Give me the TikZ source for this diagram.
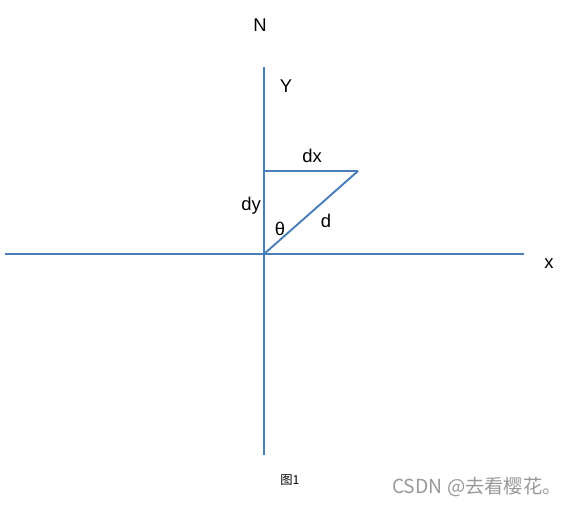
\documentclass[tikz,border=0pt]{standalone}
\usepackage{fontspec}
\setmainfont{Liberation Sans}
\newfontfamily\cjk{Noto Sans CJK SC}
\usepackage{xcolor}
\usetikzlibrary{positioning,calc}
\definecolor{axisblue}{RGB}{74,126,187}

\begin{document}
\begin{tikzpicture}[x=0.02cm,y=-0.02cm,
    axis/.style={draw=axisblue,line width=1.1pt},
    lbl/.style={font=\fontsize{10.5}{12}\selectfont,inner sep=0pt}]
    \useasboundingbox (0,0) rectangle (570,506);
    \coordinate (O) at (264,254);
    \coordinate (top) at (264,67);
    \coordinate (bottom) at (264,455);
    \coordinate (left) at (5,254);
    \coordinate (right) at (524,254);
    \coordinate (A) at (264,171);
    \coordinate (P) at (358,171);

    % axes
    \draw[axis] (top) -- (bottom);
    \draw[axis] (left) -- (right);

    % triangle
    \draw[axis] (A) -- (P);
    \draw[axis] (O) -- (P);

    \node[lbl] (n) at (260,25) {N};
    \node[lbl] (y) at (286,86) {Y};
    \node[lbl] (xl) at (549,264) {x};
    \node[lbl] (dx) at (312,156) {dx};
    \node[lbl] (dy) at (251,206) {dy};
    \node[lbl] (th) at (280,229) {θ};
    \node[lbl] (d) at (326,221) {d};

    \node[inner sep=0pt,font=\cjk\fontsize{7}{8}\selectfont] (cap) at (290,480) {图1};
    \node[inner sep=0pt,text=black!40,font=\cjk\fontsize{11}{13}\selectfont] (wm) at (477,487) {CSDN @去看樱花。};
\end{tikzpicture}
\end{document}
